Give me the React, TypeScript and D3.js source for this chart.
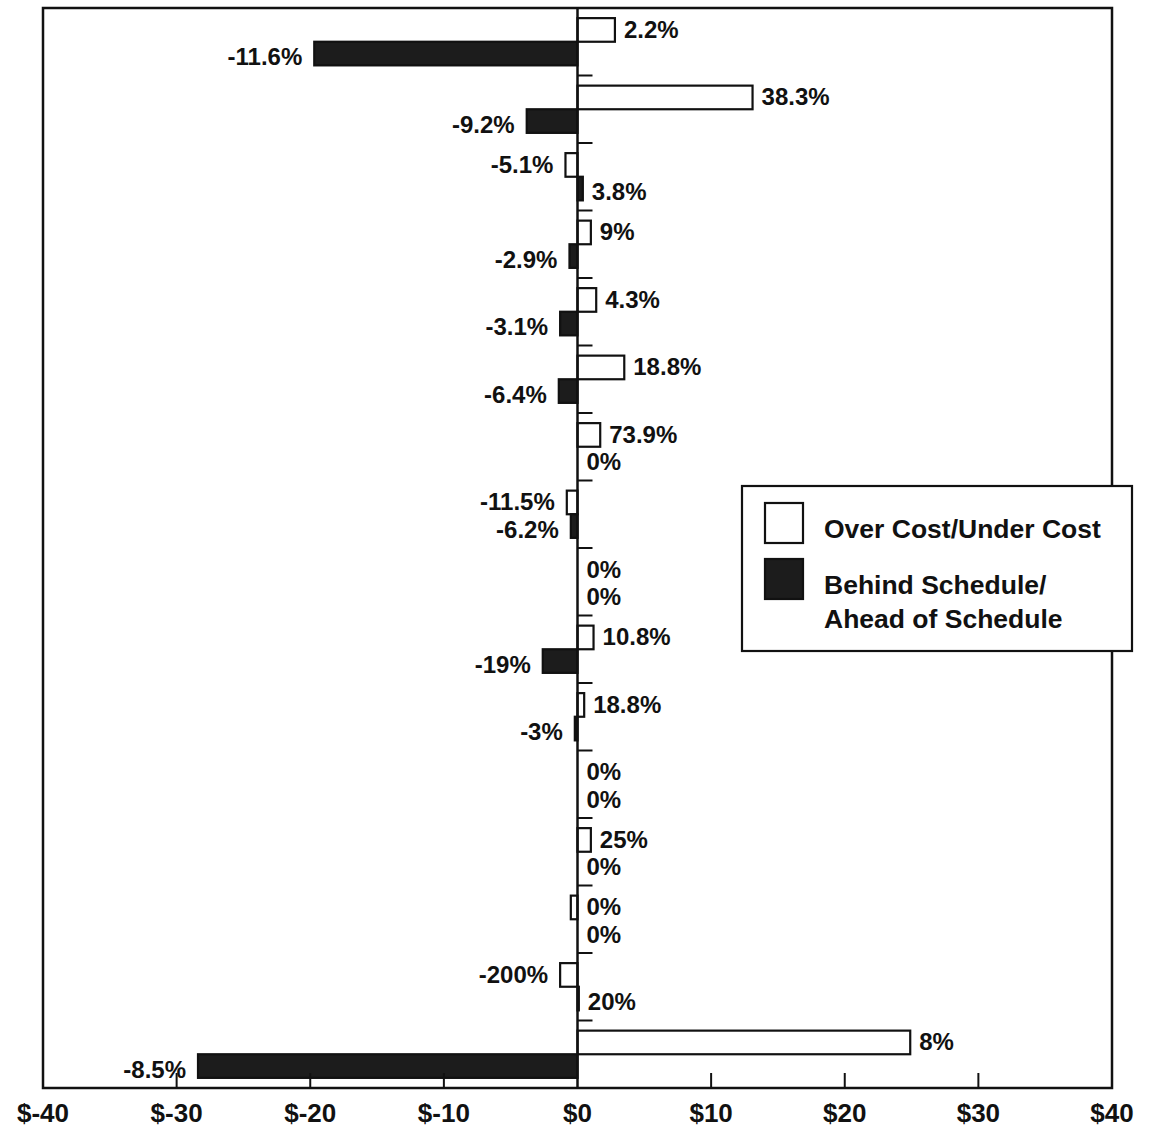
import React from 'react';
import * as d3 from 'd3';

// project rows, top to bottom (no labels shown on the chart)
const projects = d3.range(1, 17).map(i => `P${i}`);

// $ millions, over/under cost (white bars)
const costValues = [2.8, 13.1, -0.9, 1.0, 1.4, 3.5, 1.7, -0.8, 0, 1.2, 0.5, 0, 1.0, -0.5, -1.3, 24.9];
const costLabels = ['2.2%', '38.3%', '-5.1%', '9%', '4.3%', '18.8%', '73.9%', '-11.5%', '0%', '10.8%', '18.8%', '0%', '25%', '0%', '-200%', '8%'];

// $ millions, behind/ahead of schedule (black bars)
const scheduleValues = [-19.7, -3.8, 0.4, -0.6, -1.3, -1.4, 0, -0.5, 0, -2.6, -0.2, 0, 0, 0, 0.1, -28.4];
const scheduleLabels = ['-11.6%', '-9.2%', '3.8%', '-2.9%', '-3.1%', '-6.4%', '0%', '-6.2%', '0%', '-19%', '-3%', '0%', '0%', '0%', '20%', '-8.5%'];

const xTicks = [-40, -30, -20, -10, 0, 10, 20, 30, 40];
const seriesKeys = ['cost', 'schedule'];
const legendItems = [
  { key: 'cost', lines: ['Over Cost/Under Cost'] },
  { key: 'schedule', lines: ['Behind Schedule/', 'Ahead of Schedule'] },
];

const W = 1151;
const H = 1128;
const FONT = '"Liberation Sans", Arial, Helvetica, sans-serif';

export default function App() {
  const left = 43, right = 1112, top = 8, bottom = 1088;

  const x = d3.scaleLinear().domain([-40, 40]).range([left, right]);
  const y = d3.scaleBand<string>().domain(projects).range([top, bottom]).paddingInner(0.3).paddingOuter(0.15);
  const sub = d3.scaleBand<string>().domain(seriesKeys).range([0, y.bandwidth()]);
  const fill = d3.scaleOrdinal<string, string>().domain(seriesKeys).range(['#fff', '#1c1c1c']);
  // nudge the two labels of a row apart a little so they don't collide
  const labelShift: Record<string, number> = { cost: -1, schedule: 3 };

  const rows = projects.map((p, i) => ({
    p,
    bars: [
      { key: 'cost', v: costValues[i], label: costLabels[i] },
      { key: 'schedule', v: scheduleValues[i], label: scheduleLabels[i] },
    ],
  }));

  const x0 = x(0);
  const step = y.step();

  return (
    <svg width={W} height={H} style={{ position: 'absolute', left: 0, top: 0, background: '#fff' }} fontFamily={FONT}>
      {/* frame */}
      <rect x={left} y={top} width={right - left} height={bottom - top} fill="none" stroke="#111" strokeWidth={2.5} />

      {/* bars */}
      {rows.map(r => (
        <g key={r.p} transform={`translate(0,${y(r.p)})`}>
          {r.bars.map(b => {
            const by = sub(b.key)!;
            const bh = sub.bandwidth();
            const xa = Math.min(x(b.v), x0);
            const xb = Math.max(x(b.v), x0);
            const toLeft = b.label.startsWith('-');
            return (
              <g key={b.key}>
                <rect x={xa} y={by} width={xb - xa} height={bh}
                  fill={fill(b.key)} stroke="#111" strokeWidth={2.2} />
                <text x={toLeft ? xa - 12 : xb + 9} y={by + bh / 2 + labelShift[b.key]} dy="0.36em"
                  textAnchor={toLeft ? 'end' : 'start'} fontSize={24} fontWeight="bold" fill="#111">
                  {b.label}
                </text>
              </g>
            );
          })}
        </g>
      ))}

      {/* zero axis with row ticks */}
      <line x1={x0} x2={x0} y1={top} y2={bottom} stroke="#111" strokeWidth={2.5} />
      {projects.slice(1).map(p => (
        <line key={p} x1={x0} x2={x0 + 15} y1={y(p)! - step * 0.15} y2={y(p)! - step * 0.15} stroke="#111" strokeWidth={2} />
      ))}

      {/* bottom axis */}
      {xTicks.map(t => (
        <g key={t} transform={`translate(${x(t)},${bottom})`}>
          {t > -40 && t < 40 && t !== 0 && <line y1={0} y2={-15} stroke="#111" strokeWidth={2} />}
          <text y={34} textAnchor="middle" fontSize={26} fontWeight="bold" fill="#111">
            {d3.format('$')(t).replace('−', '-').replace('-$', '$-')}
          </text>
        </g>
      ))}

      {/* legend */}
      <g transform="translate(742,486)">
        <rect width={390} height={165} fill="#fff" stroke="#111" strokeWidth={2.2} />
        {legendItems.map((it, i) => (
          <g key={it.key} transform={`translate(23,${17 + i * 56})`}>
            <rect width={38} height={40} fill={fill(it.key)} stroke="#111" strokeWidth={2.2} />
            {it.lines.map((ln, j) => (
              <text key={j} x={59} y={35 + j * 34} fontSize={26.5} fontWeight="bold" fill="#111">{ln}</text>
            ))}
          </g>
        ))}
      </g>
    </svg>
  );
}
